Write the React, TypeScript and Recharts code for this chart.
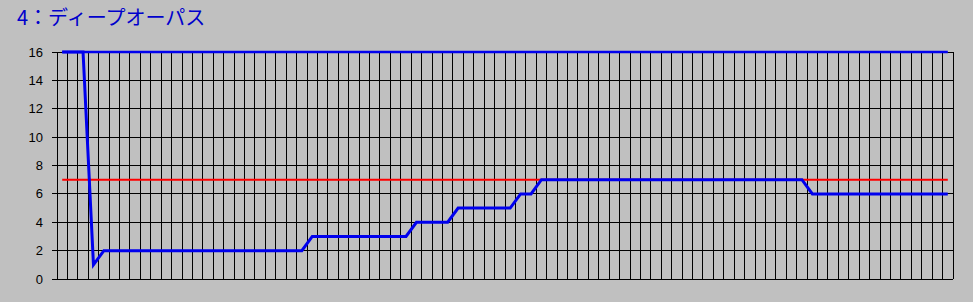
import { CartesianGrid, Line, LineChart, XAxis, YAxis } from "recharts";

const title = "4：ディープオーパス";
const yTicks = [0, 2, 4, 6, 8, 10, 12, 14, 16];

// upper limit, drawn as a flat blue line across the top
const ceiling = [
  16, 16, 16, 16, 16, 16, 16, 16, 16, 16, 16, 16, 16, 16, 16, 16, 16, 16, 16, 16,
  16, 16, 16, 16, 16, 16, 16, 16, 16, 16, 16, 16, 16, 16, 16, 16, 16, 16, 16, 16,
  16, 16, 16, 16, 16, 16, 16, 16, 16, 16, 16, 16, 16, 16, 16, 16, 16, 16, 16, 16,
  16, 16, 16, 16, 16, 16, 16, 16, 16, 16, 16, 16, 16, 16, 16, 16, 16, 16, 16, 16,
  16, 16, 16, 16, 16, 16,
];

// red target line
const target = [
  7, 7, 7, 7, 7, 7, 7, 7, 7, 7, 7, 7, 7, 7, 7, 7, 7, 7, 7, 7,
  7, 7, 7, 7, 7, 7, 7, 7, 7, 7, 7, 7, 7, 7, 7, 7, 7, 7, 7, 7,
  7, 7, 7, 7, 7, 7, 7, 7, 7, 7, 7, 7, 7, 7, 7, 7, 7, 7, 7, 7,
  7, 7, 7, 7, 7, 7, 7, 7, 7, 7, 7, 7, 7, 7, 7, 7, 7, 7, 7, 7,
  7, 7, 7, 7, 7, 7,
];

// main blue series
const actual = [
  16, 16, 16, 1, 2, 2, 2, 2, 2, 2, 2, 2, 2, 2, 2, 2, 2, 2, 2, 2,
  2, 2, 2, 2, 3, 3, 3, 3, 3, 3, 3, 3, 3, 3, 4, 4, 4, 4, 5, 5,
  5, 5, 5, 5, 6, 6, 7, 7, 7, 7, 7, 7, 7, 7, 7, 7, 7, 7, 7, 7,
  7, 7, 7, 7, 7, 7, 7, 7, 7, 7, 7, 7, 6, 6, 6, 6, 6, 6, 6, 6,
  6, 6, 6, 6, 6, 6,
];

const data = actual.map((v, i) => ({
  x: i + 0.5,
  ceiling: ceiling[i],
  target: target[i],
  actual: v,
}));

// category boundaries, where the vertical grid lines sit
const boundaries = Array.from({ length: actual.length + 1 }, (_, i) => i);

export default function App() {
  return (
    <div
      style={{
        position: "absolute",
        left: 0,
        top: 0,
        width: 973,
        height: 302,
        background: "#c0c0c0",
        overflow: "hidden",
      }}
    >
      <style>{`.recharts-cartesian-grid line, .recharts-cartesian-axis line { shape-rendering: crispEdges; }`}</style>
      <div
        style={{
          position: "absolute",
          left: 17,
          top: 7,
          fontFamily: "'Noto Sans CJK JP', sans-serif",
          fontSize: 20,
          lineHeight: "20px",
          color: "#0000cc",
          whiteSpace: "nowrap",
        }}
      >
        {title}
      </div>
      <LineChart
        width={973}
        height={302}
        data={data}
        margin={{ top: 52, right: 20, bottom: 22, left: 0 }}
      >
        <CartesianGrid stroke="#000000" strokeWidth={1} />
        <XAxis
          type="number"
          dataKey="x"
          domain={[0, actual.length]}
          ticks={boundaries}
          interval={0}
          height={1}
          tick={() => <g />}
          tickLine={false}
          axisLine={false}
        />
        <YAxis
          width={57}
          domain={[0, 16]}
          ticks={yTicks}
          interval={0}
          stroke="#000000"
          tickSize={5}
          tickMargin={9}
          tick={{ fill: "#000000", fontSize: 13, fontFamily: "'Liberation Sans', Arial, sans-serif" }}
        />
        <Line
          dataKey="target"
          stroke="#ff0000"
          strokeWidth={2}
          dot={false}
          activeDot={false}
          isAnimationActive={false}
        />
        <Line
          dataKey="ceiling"
          stroke="#0000ee"
          strokeWidth={2.5}
          dot={false}
          activeDot={false}
          isAnimationActive={false}
        />
        <Line
          dataKey="actual"
          stroke="#0000ee"
          strokeWidth={3}
          dot={false}
          activeDot={false}
          isAnimationActive={false}
        />
      </LineChart>
    </div>
  );
}
